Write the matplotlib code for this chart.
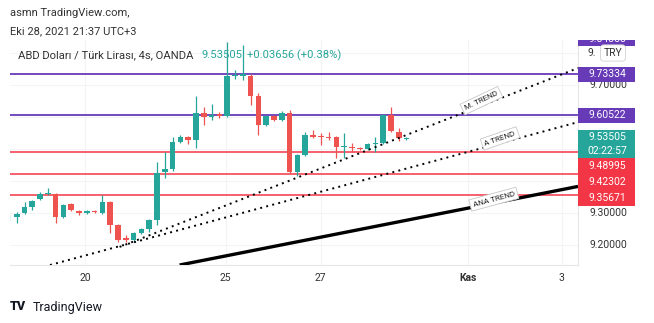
import numpy as np
import matplotlib.pyplot as plt
from matplotlib.patches import Rectangle

plt.rcParams['font.family'] = ['Roboto', 'DejaVu Sans']

# 4h candles, index 0 = first full candle on the left
opens = [9.283, 9.2875, 9.300, 9.319, 9.344, 9.359, 9.359, 9.2875, 9.328, 9.306,
         9.300, 9.305, 9.300, 9.334, 9.2625, 9.222, 9.2156, 9.2375, 9.25, 9.278,
         9.428, 9.4375, 9.522, 9.5375, 9.528, 9.6125, 9.600, 9.609, 9.603, 9.728,
         9.728, 9.728, 9.666, 9.575, 9.603, 9.590, 9.6125, 9.428, 9.481, 9.544,
         9.541, 9.5375, 9.5375, 9.505, 9.506, 9.503, 9.500, 9.516, 9.519, 9.606,
         9.553, 9.531]
highs = [9.297, 9.303, 9.334, 9.340, 9.365, 9.378, 9.362, 9.328, 9.330, 9.309,
         9.309, 9.310, 9.356, 9.336, 9.266, 9.231, 9.240, 9.253, 9.281, 9.459,
         9.491, 9.5375, 9.545, 9.540, 9.666, 9.631, 9.641, 9.615, 9.834, 9.747,
         9.825, 9.734, 9.675, 9.606, 9.606, 9.619, 9.622, 9.484, 9.553, 9.559,
         9.550, 9.553, 9.540, 9.550, 9.519, 9.506, 9.519, 9.537, 9.609, 9.631,
         9.566, 9.539]
lows = [9.275, 9.270, 9.297, 9.310, 9.340, 9.357, 9.269, 9.284, 9.306, 9.294,
        9.297, 9.299, 9.297, 9.2375, 9.209, 9.209, 9.209, 9.234, 9.241, 9.262,
        9.410, 9.430, 9.518, 9.516, 9.503, 9.575, 9.590, 9.597, 9.600, 9.720,
        9.716, 9.6375, 9.544, 9.572, 9.587, 9.587, 9.425, 9.416, 9.478, 9.534,
        9.512, 9.528, 9.472, 9.472, 9.491, 9.497, 9.497, 9.491, 9.516, 9.553,
        9.525, 9.528]
closes = [9.285, 9.297, 9.319, 9.3375, 9.359, 9.362, 9.2875, 9.325, 9.309, 9.300,
          9.306, 9.302, 9.334, 9.2625, 9.2156, 9.217, 9.2375, 9.250, 9.278, 9.425,
          9.4375, 9.522, 9.5375, 9.528, 9.6125, 9.600, 9.606, 9.603, 9.728, 9.731,
          9.734, 9.666, 9.575, 9.603, 9.590, 9.6125, 9.428, 9.481, 9.544, 9.5375,
          9.536, 9.534, 9.506, 9.508, 9.503, 9.500, 9.516, 9.519, 9.606, 9.556,
          9.534, 9.53505]
first_idx = -1

purple_levels = [9.73334, 9.60522]
red_levels = [9.48995, 9.42302, 9.35671]
last_price = 9.53505
countdown = "02:22:57"
top_label = 9.84388

# trend lines: (start idx, start price, end idx, end price)
m_trend = (13.2, 9.194, 72.0, 9.753)
a_trend = (4.27, 9.1375, 72.0, 9.584)
ana_trend = (20.9, 9.1375, 72.0, 9.383)

tick_idx = [8.8, 26.8, 39.0, 57.9, 69.9]
tick_lbl = ["20", "25", "27", "Kas", "3"]
grid_y = [9.2, 9.3, 9.4, 9.5, 9.6, 9.7, 9.8]
shown_y = [9.2, 9.3, 9.7]   # the others sit under the price boxes

GREEN = '#26a69a'
RED = '#ef5350'
LRED = '#f23645'
PURPLE = '#673ab7'
TXT = '#333333'

W, H = 654, 323
fig = plt.figure(figsize=(W / 100, H / 100), dpi=100)
ylo, yhi = 9.1375, 9.840625
ax = fig.add_axes([10 / W, 58 / H, 568 / W, 225 / H])
ax.set_xlim(-0.86, 72.0)
ax.set_ylim(ylo, yhi)
for s in ax.spines.values():
    s.set_visible(False)
ax.spines['bottom'].set_visible(True)
ax.spines['bottom'].set_color('#e6e6e6')
ax.spines['right'].set_visible(True)
ax.spines['right'].set_color('#e6e6e6')
ax.set_yticks([])
ax.set_xticks(tick_idx)
ax.set_xticklabels(tick_lbl, fontsize=7.5, color=TXT)
ax.get_xticklabels()[3].set_fontweight('bold')
ax.tick_params(axis='x', length=0, pad=6)
for t in tick_idx:
    ax.axvline(t, color='#f4f4f4', lw=0.8, zorder=0)
for v in grid_y:
    ax.axhline(v, color='#f4f4f4', lw=0.8, zorder=0)

# candles
for i in range(len(opens)):
    x = first_idx + i
    o, h, l, c = opens[i], highs[i], lows[i], closes[i]
    col = GREEN if c >= o else RED
    ax.vlines(x, l, h, color=col, lw=0.9, zorder=3)
    b = max(abs(c - o), 0.002)
    ax.add_patch(Rectangle((x - 0.36, min(o, c)), 0.72, b, color=col, zorder=3, lw=0))

for v in purple_levels:
    ax.axhline(v, color=PURPLE, lw=1.3, zorder=2)
for v in red_levels:
    ax.axhline(v, color=LRED, lw=1.1, zorder=2)

def trend(line, style, lw):
    ax.plot([line[0], line[2]], [line[1], line[3]], color='black', lw=lw, ls=style,
            zorder=4, solid_capstyle='butt')

trend(m_trend, (0, (1, 2.2)), 1.4)
trend(a_trend, (0, (1, 2.2)), 1.4)
trend(ana_trend, '-', 2.4)

def line_label(line, xi, dy, text):
    x0, y0, x1, y1 = line
    yv = y0 + (y1 - y0) * (xi - x0) / (x1 - x0) + dy
    p0 = ax.transData.transform((x0, y0))
    p1 = ax.transData.transform((x1, y1))
    ang = np.degrees(np.arctan2(p1[1] - p0[1], p1[0] - p0[0]))
    ax.text(xi, yv, text, fontsize=5.8, rotation=ang + 4, rotation_mode='anchor',
            ha='center', va='center', color='#222222', zorder=6,
            bbox=dict(boxstyle='square,pad=0.35', fc='white', ec='#c8c8c8', lw=0.6))

line_label(m_trend, 59.6, 0.016, "M. TREND")
line_label(a_trend, 62.0, 0.015, "A TREND")
line_label(ana_trend, 61.2, 0.012, "ANA TREND")

# price axis
pax = fig.add_axes([578 / W, 58 / H, 76 / W, 225 / H])
pax.set_xlim(0, 76)
pax.set_ylim(ylo, yhi)
pax.axis('off')
px = 1 / 320.0

for v in shown_y:
    pax.text(30, v, f"{v:.5f}", fontsize=7.5, color=TXT, ha='center', va='center', zorder=1)

def price_box(yc, hgt, col, lines):
    pax.add_patch(Rectangle((0, yc - hgt / 2), 57, hgt, color=col, zorder=3, lw=0))
    if len(lines) == 1:
        pax.text(29, yc, lines[0], fontsize=7.5, color='white', ha='center', va='center', zorder=4)
    else:
        pax.text(29, yc + hgt / 4, lines[0], fontsize=7.5, color='white', ha='center', va='center', zorder=4)
        pax.text(29, yc - hgt / 4, lines[1], fontsize=7.5, color='white', ha='center', va='center', zorder=4)

price_box(top_label, 14 * px, PURPLE, [f"{top_label:.5f}"])
# 9.80000 label is hidden behind the currency tag, only "9." shows
pax.text(9, 9.8, "9.", fontsize=7.5, color=TXT, ha='left', va='center', zorder=1)
pax.text(35, 9.8, "TRY", fontsize=7.5, color=TXT, ha='center', va='center', zorder=5,
         bbox=dict(boxstyle='round,pad=0.3', fc='white', ec='#d0d0d0', lw=0.6))
for v in purple_levels:
    price_box(v, 14.5 * px, PURPLE, [f"{v:.5f}"])
price_box(last_price - 6 * px, 28 * px, GREEN, [f"{last_price:.5f}", countdown])
red_y = [9.3 + (213 - 166) * px, 9.3 + (213 - 182) * px, 9.3 + (213 - 198) * px]
for yc, v in zip(red_y, red_levels):
    price_box(yc, 16 * px, LRED, [f"{v:.5f}"])

# header texts
fig.text(10 / W, 1 - 13 / H, "asmn TradingView.com,", fontsize=8, color=TXT, va='center')
fig.text(10 / W, 1 - 31 / H, "Eki 28, 2021 21:37 UTC+3", fontsize=8, color=TXT, va='center')
fig.text(18 / W, 1 - 55 / H, "ABD Doları / Türk Lirası, 4s, OANDA", fontsize=8.1,
         color=TXT, va='center')
fig.text(201 / W, 1 - 55 / H, f"{last_price:.5f}", fontsize=8.1, color=GREEN, va='center')
fig.text(247 / W, 1 - 55 / H, "+0.03656 (+0.38%)", fontsize=8.1, color=GREEN, va='center')

fig.text(10 / W, 1 - 307 / H, "TV", fontsize=9, fontweight='heavy', color='#131722', va='center')
fig.text(33 / W, 1 - 307 / H, "TradingView", fontsize=9, color='#131722', va='center')

fig.savefig('out.png', dpi=100, facecolor='white')
